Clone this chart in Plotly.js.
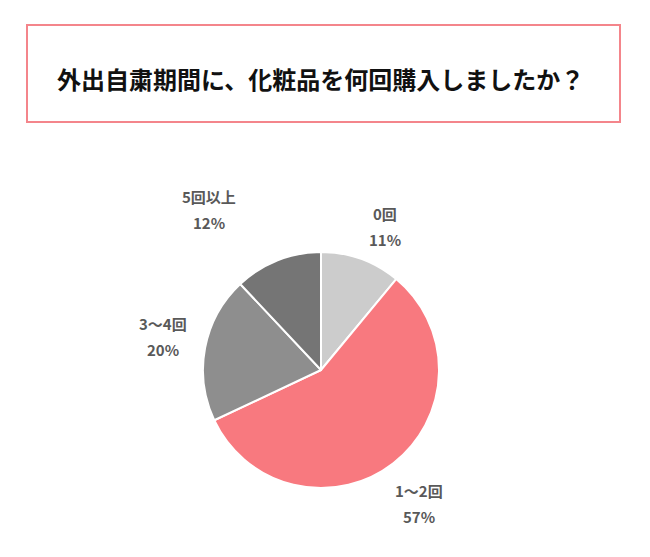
<!DOCTYPE html>
<html>
<head>
<meta charset="utf-8">
<script src="https://cdn.plot.ly/plotly-3.0.1.min.js"></script>
<style>html,body{margin:0;padding:0;background:#fff;}#chart{width:650px;height:557px;}</style>
</head>
<body>
<div id="chart"></div>
<script>
const categories = ["0回", "1〜2回", "3〜4回", "5回以上"];
const percents = [11, 57, 20, 12];
const sliceColors = ["#cccccc", "#f8797f", "#8e8e8e", "#757575"];
const titleText = "外出自粛期間に、化粧品を何回購入しましたか？";
// label anchor positions in pixels (x, y of first line)
const labelPos = [[385, 213], [419, 490], [163, 323], [209, 196]];

const W = 650, H = 557;
const px = x => x / W;
const py = y => 1 - y / H;

const cx = 321, cy = 370, r = 118;

const trace = {
  type: "pie",
  labels: categories,
  values: percents,
  sort: false,
  direction: "clockwise",
  rotation: 0,
  marker: {colors: sliceColors, line: {color: "#ffffff", width: 2}},
  textinfo: "none",
  hoverinfo: "label+percent",
  showlegend: false,
  domain: {x: [px(cx - r), px(cx + r)], y: [py(cy + r), py(cy - r)]}
};

const font = "'Noto Sans CJK JP', 'Noto Sans', sans-serif";
const annotations = [];
categories.forEach((c, i) => {
  annotations.push({
    xref: "paper", yref: "paper", x: px(labelPos[i][0]), y: py(labelPos[i][1]),
    xanchor: "center", yanchor: "middle", showarrow: false,
    text: "<b>" + c + "</b>", font: {family: font, size: 15, color: "#595959"}
  });
  annotations.push({
    xref: "paper", yref: "paper", x: px(labelPos[i][0]), y: py(labelPos[i][1] + 26),
    xanchor: "center", yanchor: "middle", showarrow: false,
    text: "<b>" + percents[i] + "%</b>", font: {family: font, size: 15, color: "#595959"}
  });
});
annotations.push({
  xref: "paper", yref: "paper", x: px(320), y: py(78),
  xanchor: "center", yanchor: "middle", showarrow: false,
  text: "<b>" + titleText + "</b>", font: {family: font, size: 24, color: "#111111"}
});

const layout = {
  width: W, height: H,
  margin: {l: 0, r: 0, t: 0, b: 0},
  paper_bgcolor: "#ffffff",
  plot_bgcolor: "#ffffff",
  shapes: [{
    type: "rect", xref: "paper", yref: "paper",
    x0: px(27), x1: px(620), y0: py(122), y1: py(25),
    line: {color: "#f4858b", width: 2}, fillcolor: "rgba(0,0,0,0)"
  }],
  annotations: annotations
};

Plotly.newPlot("chart", [trace], layout, {displayModeBar: false, staticPlot: true});
</script>
</body>
</html>
